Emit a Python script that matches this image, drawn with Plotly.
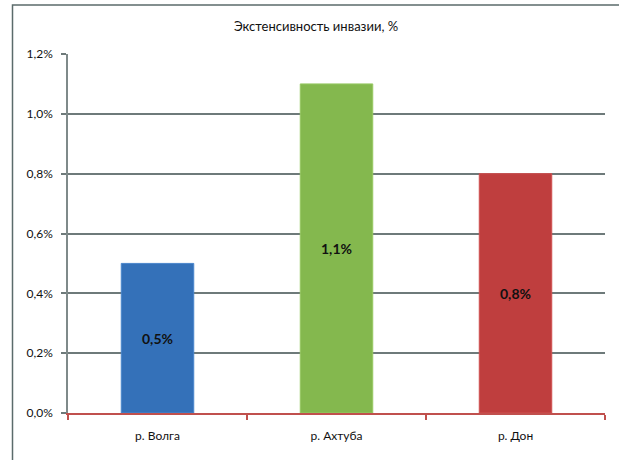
import plotly.graph_objects as go

# Invasion extensity by river, %
rivers = ["р. Волга", "р. Ахтуба", "р. Дон"]
extensity = [0.5, 1.1, 0.8]
bar_colors = ["#3471b9", "#84b84e", "#bf3e3e"]
edge_colors = ["#4a86cc", "#97c862", "#d05050"]
y_ticks = [0.0, 0.2, 0.4, 0.6, 0.8, 1.0, 1.2]
y_tick_labels = ["0,0%", "0,2%", "0,4%", "0,6%", "0,8%", "1,0%", "1,2%"]

W, H = 619, 460
L, R, T, B = 68, 14, 54, 47
pw, ph = W - L - R, H - T - B
FONT = "Lato, Roboto, Arial, sans-serif"

fig = go.Figure(
    go.Bar(
        x=rivers,
        y=extensity,
        marker=dict(color=bar_colors, line=dict(color=edge_colors, width=1)),
        texttemplate="%{y:.1f}%",
        textposition="inside",
        insidetextanchor="middle",
        textfont=dict(family=FONT, size=14, color="#111111", weight="bold"),
        width=0.405,
        hoverinfo="skip",
    )
)

# Chart-area frame (left and top edges)
fx0 = (12.5 - L) / pw
fy1 = (H - B - 5) / ph
fig.add_shape(
    type="path",
    xref="paper", yref="paper",
    path=f"M {fx0} -0.3 L {fx0} {fy1} L 1.2 {fy1}",
    line=dict(color="#5b6b6b", width=1.5),
    layer="above",
)

fig.update_layout(
    width=W, height=H,
    margin=dict(l=L, r=R, t=T, b=B),
    paper_bgcolor="white",
    plot_bgcolor="white",
    showlegend=False,
    title=dict(
        text="Экстенсивность инвазии, %",
        x=(316 - L) / pw, xref="paper", xanchor="center",
        y=1 - 26 / H, yanchor="middle",
        font=dict(family=FONT, size=13, color="#111111"),
    ),
    font=dict(family=FONT, size=12, color="#111111"),
    separators=", ",
)

fig.update_xaxes(
    type="category",
    showline=True, linecolor="#c0504d", linewidth=1.5,
    ticks="outside", tickson="boundaries", ticklen=5, tickcolor="#c0504d", tickwidth=1.5,
    showgrid=False,
    tickfont=dict(size=12, color="#111111"),
    ticklabelstandoff=11,
)

fig.update_yaxes(
    range=[0, 1.2],
    tickmode="array",
    tickvals=y_ticks,
    ticktext=y_tick_labels,
    showline=True, linecolor="#7f8a8a", linewidth=1.5,
    ticks="outside", ticklen=5, tickcolor="#6e7a7a", tickwidth=1.5,
    showgrid=True, gridcolor="#6e7a7a", gridwidth=1.5,
    zeroline=False,
    tickfont=dict(size=12, color="#111111"),
    ticklabelstandoff=6,
)

fig.write_html("out.html")
